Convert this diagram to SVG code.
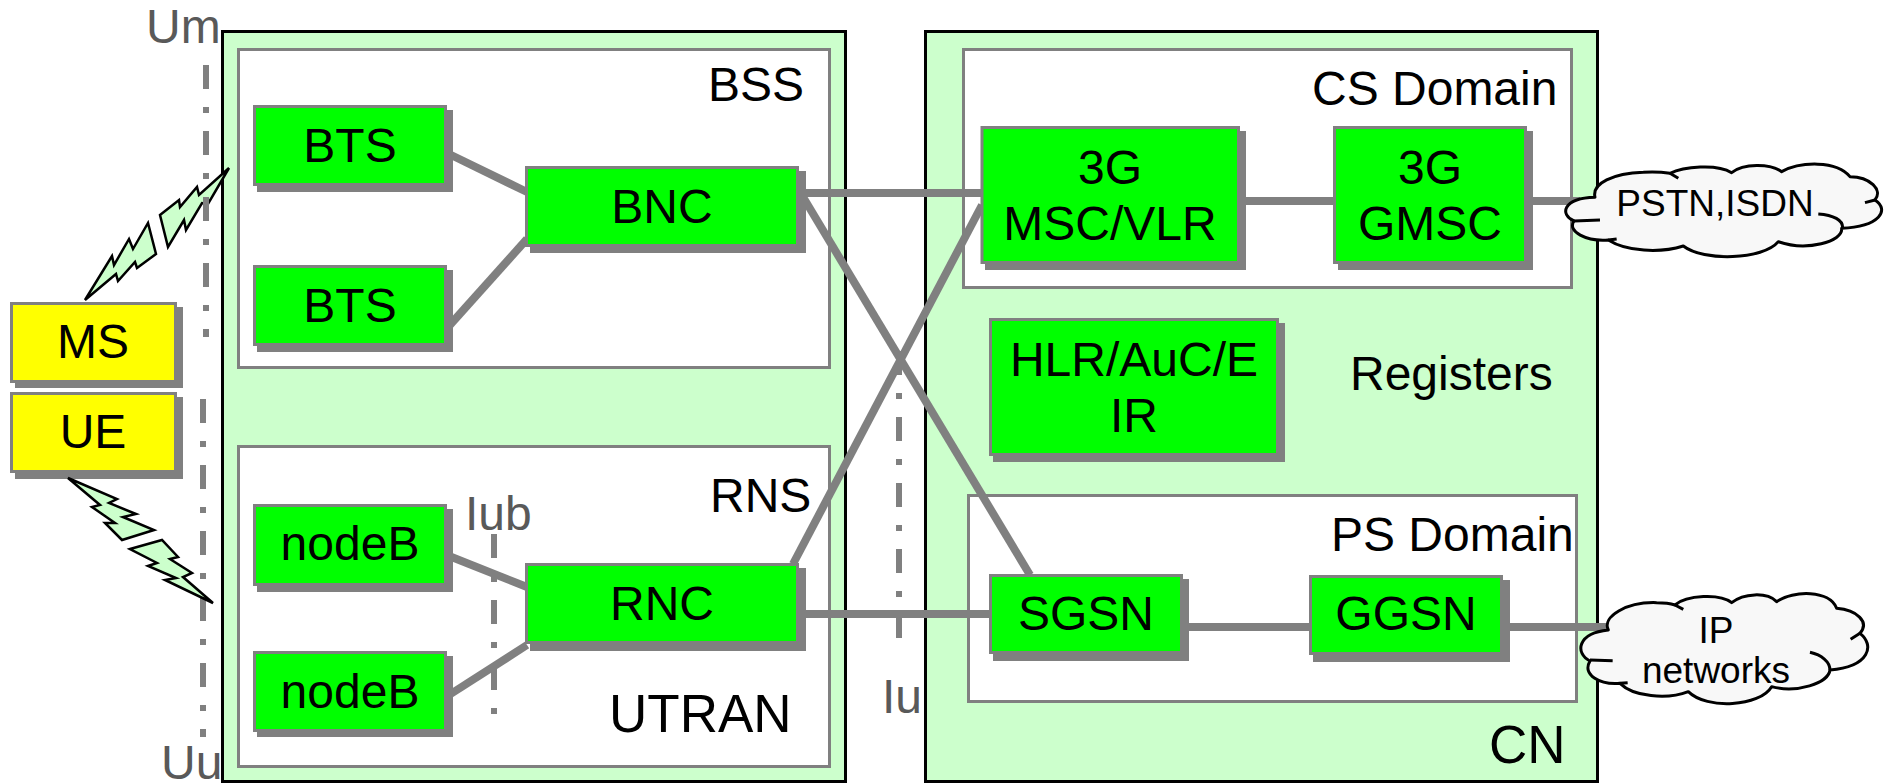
<svg xmlns="http://www.w3.org/2000/svg" width="1885" height="783" viewBox="0 0 1885 783">
<style>
text{font-family:"Liberation Sans",Arial,sans-serif;font-size:48px;fill:#000}
.c{text-anchor:middle}
.if{fill:#595959}
.big{font-size:53px}
.small{font-size:37px}
.outer{fill:#ccffcc;stroke:#000;stroke-width:3}
.inner{fill:#fff;stroke:#808080;stroke-width:3}
.shadow{fill:#808080}
.g{fill:#00ff00;stroke:#808080;stroke-width:3}
.y{fill:#ffff00;stroke:#808080;stroke-width:3}
.line{stroke:#808080;stroke-width:8;fill:none}
.dd{stroke:#808080;stroke-width:6;fill:none;stroke-dasharray:24 18 6 18}
.bolt{fill:#ccffcc;stroke:#000;stroke-width:2.500;stroke-linejoin:miter}
.cloud{fill:#f8f8f8;stroke:#000;stroke-width:9;stroke-linejoin:round}
.arc{fill:none;stroke:#000;stroke-width:9}
</style>
<rect fill="#fff" width="1885" height="783"/>
<g id="containers">
<rect class="outer" x="222.500" y="31.500" width="623" height="750"/>
<rect class="outer" x="925.500" y="31.500" width="672" height="750"/>
<rect class="inner" x="238.500" y="49.500" width="591" height="318"/>
<rect class="inner" x="238.500" y="446.500" width="591" height="320"/>
<rect class="inner" x="963.500" y="49.500" width="608" height="238"/>
<rect class="inner" x="968.500" y="495.500" width="608" height="206"/>
</g>
<g id="interface-lines-1">
<path class="bolt" d="M85 300L112 256L114 265L129 239L133 249L148 223L156 254L137 268L135 262L118 281L116 274Z"/>
<path class="bolt" d="M160 215L179 200L180 207L197 187L199 195L229 168L208 204L202 203L186 230L184 220L168 247Z"/>
<path class="dd" d="M206 65V337"/>
<path class="dd" d="M203 399V737"/>
<path class="dd" d="M494 534V714"/>
<path class="dd" d="M899 351V638"/>
</g>
<g id="connectors">
<path class="line" d="M449 154L527 192"/>
<path class="line" d="M449 326L527 239"/>
<path class="line" d="M805 193H982"/>
<path class="line" d="M803 197L1030 575"/>
<path class="line" d="M793 564L982 205"/>
<path class="line" d="M1240 201H1336"/>
<path class="line" d="M1530 201H1580"/>
<path class="line" d="M803 614H990"/>
<path class="line" d="M1186 627H1312"/>
<path class="line" d="M1506 627H1612"/>
<path class="line" d="M449 556L527 587"/>
<path class="line" d="M449 695L527 645"/>
</g>
<g id="node-ms"><rect class="shadow" x="15" y="307" width="168" height="81"/><rect class="y" x="11.500" y="303.500" width="164" height="78"/><text class="c" x="93" y="358">MS</text></g>
<g id="node-ue"><rect class="shadow" x="15" y="397" width="168" height="82"/><rect class="y" x="11.500" y="393.500" width="164" height="78"/><text class="c" x="93" y="448">UE</text></g>
<g id="bolt-ue">
<path class="bolt" d="M68 98L117 119L109 123L136 134L123 137L154 150L122 160L105 143L115 143L92 127L100 125Z" transform="translate(0,380)"/>
<path class="bolt" d="M130 169L162 160L178 177L170 179L192 193L183 197L213 223L165 200L176 198L148 186L157 183Z" transform="translate(0,380)"/>
</g>
<g id="node-bts1"><rect class="shadow" x="257" y="110" width="196" height="82"/><rect class="g" x="254.500" y="106.500" width="191" height="78"/><text class="c" x="350" y="162">BTS</text></g>
<g id="node-bts2"><rect class="shadow" x="257" y="270" width="196" height="82"/><rect class="g" x="254.500" y="266.500" width="191" height="78"/><text class="c" x="350" y="322">BTS</text></g>
<g id="node-bnc"><rect class="shadow" x="530" y="171" width="276" height="82"/><rect class="g" x="526.500" y="167.500" width="271" height="78"/><text class="c" x="662" y="223">BNC</text></g>
<g id="node-b1"><rect class="shadow" x="257" y="509" width="196" height="83"/><rect class="g" x="254.500" y="505.500" width="191" height="79"/><text class="c" x="350" y="560">nodeB</text></g>
<g id="node-b2"><rect class="shadow" x="257" y="656" width="196" height="81"/><rect class="g" x="254.500" y="652.500" width="191" height="78"/><text class="c" x="350" y="708">nodeB</text></g>
<g id="node-rnc"><rect class="shadow" x="530" y="568" width="276" height="83"/><rect class="g" x="526.500" y="564.500" width="271" height="78"/><text class="c" x="662" y="620">RNC</text></g>
<g id="node-msc"><rect class="shadow" x="985" y="131" width="261" height="139"/><rect class="g" x="982" y="127.500" width="256.500" height="135"/><text class="c" x="1110" y="184">3G</text><text class="c" x="1110" y="240">MSC/VLR</text></g>
<g id="node-gmsc"><rect class="shadow" x="1338" y="131" width="195" height="139"/><rect class="g" x="1334.500" y="127.500" width="191" height="135"/><text class="c" x="1430" y="184">3G</text><text class="c" x="1430" y="240">GMSC</text></g>
<g id="node-hlr"><rect class="shadow" x="993" y="323" width="292" height="139"/><rect class="g" x="990.500" y="319.500" width="287" height="135"/><text class="c" x="1134" y="376">HLR/AuC/E</text><text class="c" x="1134" y="432">IR</text></g>
<g id="node-sgsn"><rect class="shadow" x="993" y="579" width="196" height="82"/><rect class="g" x="990.500" y="575.500" width="191" height="77"/><text class="c" x="1086" y="630">SGSN</text></g>
<g id="node-ggsn"><rect class="shadow" x="1313" y="580" width="197" height="82"/><rect class="g" x="1310.500" y="576.500" width="191" height="77"/><text class="c" x="1406" y="630">GGSN</text></g>
<g id="cloud-pstn">
<g transform="translate(1500,120) scale(.3333)">
<path class="cloud" d="M285 232C275 190 340 160 430 157C460 155 490 157 510 160C550 140 650 130 695 158C730 130 810 130 845 155C900 125 1010 120 1050 170C1110 170 1150 210 1125 240C1170 270 1140 320 1025 325C1030 365 920 395 835 365C790 420 610 425 550 378C480 400 380 395 325 360C260 365 200 335 222 303C180 285 185 235 285 232Z"/>
<path class="arc" d="M510 160L535 175M1125 240L1095 248M1028 325C1030 300 1000 285 955 282M222 303L300 300M325 360L350 357"/>
</g>
<text class="c small" x="1715" y="216">PSTN,ISDN</text>
</g>
<g id="cloud-ip">
<g transform="translate(1500,560) scale(.3333)">
<path class="cloud" d="M325 210C305 170 380 125 470 128C490 128 510 130 525 135C560 105 660 100 695 128C730 100 800 95 830 125C880 90 990 90 1010 145C1070 150 1110 185 1080 220C1125 255 1110 320 990 330C985 370 890 400 815 380C780 440 620 450 565 395C500 420 400 410 360 370C300 375 245 345 270 303C225 280 230 220 325 210Z"/>
<path class="arc" d="M525 135L550 148M1080 220L1052 238M990 330C990 305 965 285 930 277M270 300L338 302M360 370L383 368"/>
</g>
<text class="c small" x="1716" y="643">IP</text>
<text class="c small" x="1716" y="683">networks</text>
</g>
<g id="labels">
<text x="146" y="43" class="if">Um</text>
<text x="161" y="779" class="if">Uu</text>
<text x="465" y="530" class="if">Iub</text>
<text x="882" y="713" class="if">Iu</text>
<text x="708" y="101">BSS</text>
<text x="1312" y="105">CS Domain</text>
<text x="1350" y="390">Registers</text>
<text x="710" y="512">RNS</text>
<text x="1331" y="551">PS Domain</text>
<text x="609" y="732" class="big">UTRAN</text>
<text x="1489" y="763" class="big">CN</text>
</g>
</svg>
